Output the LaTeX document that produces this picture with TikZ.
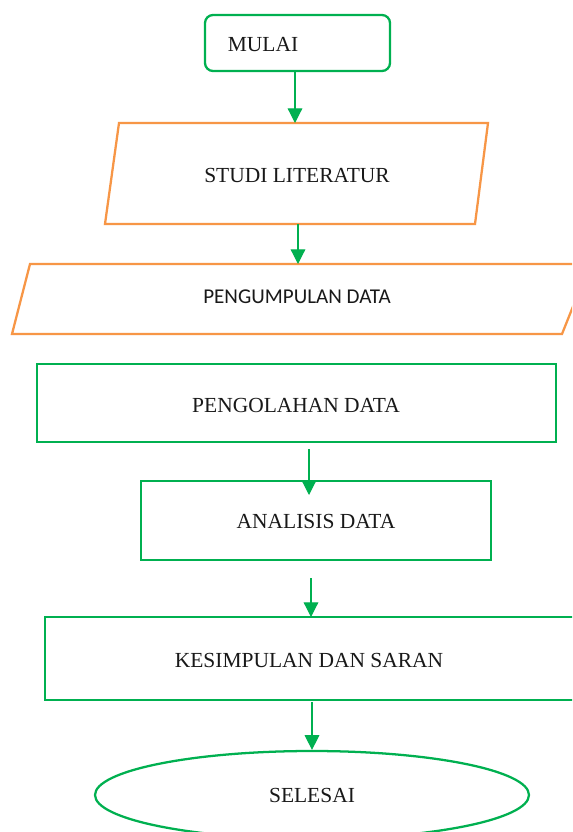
\documentclass[tikz,border=0pt]{standalone}
\usepackage{fontspec}
\setmainfont{Liberation Serif}
\newfontfamily\calib{Carlito}
\usetikzlibrary{arrows.meta,shapes.geometric}
\definecolor{fgreen}{HTML}{00B050}
\definecolor{forange}{HTML}{F79646}
\tikzset{
  gbox/.style={draw=fgreen, line width=1.7pt, rectangle, inner sep=0pt},
  obox/.style={draw=forange, line width=1.7pt, line join=miter},
  txt/.style={font=\fontsize{16.1}{19}\selectfont, inner sep=0pt, text=black!90},
  flow/.style={draw=fgreen, line width=0.9pt, -{Triangle[width=11pt,length=11pt]}},
}
\begin{document}
\begin{tikzpicture}[x=0.75pt,y=-0.75pt]
\useasboundingbox (0,0) rectangle (572,832);
\clip (0,0) rectangle (572,832);
\fill[white] (0,0) rectangle (572,832);
% MULAI
\node[gbox, rounded corners=6pt, minimum width=138.75pt, minimum height=42pt] (mulai) at (297.5,43) {};
\node[txt] (mulaitxt) at (263,45) {MULAI};
% STUDI LITERATUR
\draw[obox] (119,123) -- (488,123) -- (475,224) -- (105,224) -- cycle;
\node[txt] (studi) at (297,175) {STUDI LITERATUR};
\coordinate (studitop) at (295,123);
\coordinate (studibot) at (298,224);
% PENGUMPULAN DATA
\draw[obox] (30,264) -- (590,264) -- (562,334) -- (12,334) -- cycle;
\node[txt, font=\calib\fontsize{15.8}{18}\selectfont] (kumpul) at (297,297) {PENGUMPULAN DATA};
\coordinate (kumpultop) at (298,264);
% PENGOLAHAN DATA
\node[gbox, minimum width=389.25pt, minimum height=58.5pt] (olah) at (296.5,403) {};
\node[txt] (olahtxt) at (296,405) {PENGOLAHAN DATA};
\coordinate (olahbot) at (309,449);
% ANALISIS DATA
\node[gbox, minimum width=262.5pt, minimum height=59.25pt] (analisis) at (316,520.5) {};
\node[txt] (analisistxt) at (316,521) {ANALISIS DATA};
\coordinate (analisistip) at (309,495);
\coordinate (analisisbot) at (311,578);
% KESIMPULAN DAN SARAN
\node[gbox, minimum width=397.5pt, minimum height=62.25pt] (simpul) at (310,658.5) {};
\node[txt] (simpultxt) at (309,660) {KESIMPULAN DAN SARAN};
\coordinate (simpultop) at (311,617);
\coordinate (simpulbot) at (312,702);
% SELESAI
\node[draw=fgreen, line width=1.7pt, ellipse, minimum width=325.5pt, minimum height=66pt, inner sep=0pt] (selesai) at (312,795) {};
\node[txt] (selesaitxt) at (312,795) {SELESAI};
% connectors
\draw[flow] (mulai.south -| 295,0) -- (studitop);
\draw[flow] (studibot) -- (kumpultop);
\draw[flow] (olahbot) -- (analisistip);
\draw[flow] (analisisbot) -- (simpultop);
\draw[flow] (simpulbot) -- (selesai.north);
\end{tikzpicture}
\end{document}
